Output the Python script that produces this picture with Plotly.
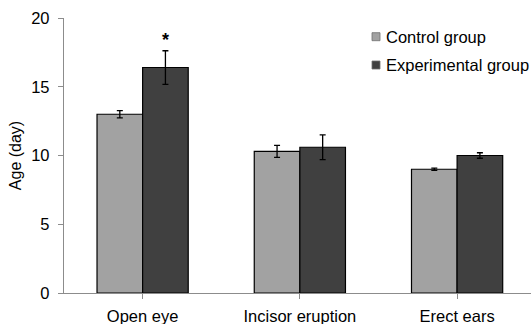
import plotly.graph_objects as go

categories = ["Open eye", "Incisor eruption", "Erect ears"]
series_names = ["Control group", "Experimental group"]
control = [13.0, 10.3, 9.0]
control_err = [0.27, 0.43, 0.08]
experimental = [16.4, 10.6, 10.0]
experimental_err = [1.22, 0.9, 0.2]
y_ticks = [0, 5, 10, 15, 20]

font_family = "Liberation Sans, Arial, sans-serif"
colors = ["#a2a2a2", "#404040"]

fig = go.Figure()
fig.add_trace(go.Bar(
    x=categories, y=control, name=series_names[0], showlegend=False,
    marker=dict(color=colors[0], line=dict(color="#000000", width=1.2)),
    error_y=dict(type="data", array=control_err, color="#000000", thickness=1.3, width=3),
))
fig.add_trace(go.Bar(
    x=categories, y=experimental, name=series_names[1], showlegend=False,
    marker=dict(color=colors[1], line=dict(color="#000000", width=1.2)),
    error_y=dict(type="data", array=experimental_err, color="#000000", thickness=1.3, width=3),
))

# significance marker
fig.add_annotation(x=0, xshift=22.5, y=experimental[0] + experimental_err[0], yshift=11,
                   text="<b>*</b>", showarrow=False,
                   font=dict(size=18, color="#000", family=font_family))

# legend (squares + text, placed like the original)
plot_l, plot_w, plot_b, plot_h, H = 64.0, 467.0, 31.0, 275.0, 324.0
legend_rows_y = [36.7, 65.0]
for name, col, ry in zip(series_names, colors, legend_rows_y):
    y_paper = (H - ry - plot_b) / plot_h
    fig.add_shape(type="rect", xref="paper", yref="paper",
                  x0=(372 - plot_l) / plot_w, x1=(380 - plot_l) / plot_w,
                  y0=y_paper - 4 / plot_h, y1=y_paper + 4 / plot_h,
                  fillcolor=col, line=dict(color="#6e6e6e", width=0.8))
    fig.add_annotation(xref="paper", yref="paper", x=(384 - plot_l) / plot_w, y=y_paper,
                       xanchor="left", yanchor="middle", text=name, showarrow=False,
                       font=dict(size=16.5, color="#000", family=font_family))

fig.update_layout(
    width=531, height=324,
    margin=dict(l=64, r=0, t=18, b=31, autoexpand=False),
    paper_bgcolor="white", plot_bgcolor="white",
    barmode="group", bargap=0.42, bargroupgap=0,
    font=dict(family=font_family, color="#000000"),
    showlegend=False,
    xaxis=dict(range=[-0.5, 2.47], showline=True, linecolor="#8c8c8c", linewidth=1.3,
               ticks="outside", ticklen=5, tickcolor="#8c8c8c", tickfont=dict(size=16.5),
               ticklabelstandoff=3, showgrid=False, fixedrange=True),
    yaxis=dict(range=[0, 20], tickvals=y_ticks, showline=True, linecolor="#8c8c8c", linewidth=1.3,
               ticks="outside", ticklen=5, tickcolor="#8c8c8c", tickfont=dict(size=16.5),
               ticklabelstandoff=5, showgrid=False, zeroline=False,
               title=dict(text="Age (day)", font=dict(size=16), standoff=5)),
)

fig.write_html("out.html")
